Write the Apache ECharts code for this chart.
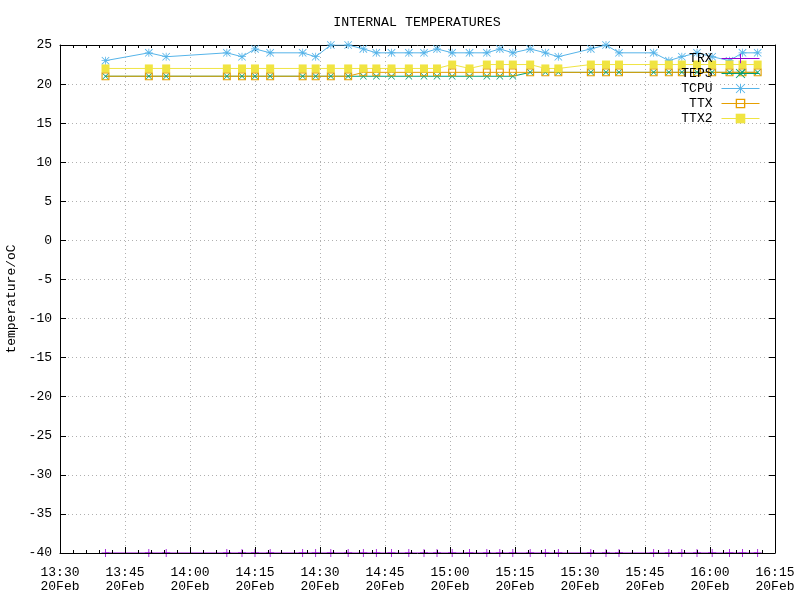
<!DOCTYPE html>
<html><head><meta charset="utf-8">
<script src="https://cdn.jsdelivr.net/npm/echarts@6/dist/echarts.min.js"></script>
<style>html,body{margin:0;padding:0;background:#fff}#c{width:800px;height:600px}</style>
</head><body><div id="c"></div>
<script>
const times = ['13:40:30','13:50:30','13:54:30','14:08:30','14:12:00','14:15:00','14:18:30','14:26:00','14:29:00','14:32:30','14:36:30','14:40:00','14:43:00','14:46:30','14:50:30','14:54:00','14:57:00','15:00:30','15:04:30','15:08:30','15:11:30','15:14:30','15:18:30','15:22:00','15:25:00','15:32:30','15:36:00','15:39:00','15:47:00','15:50:30','15:53:30','15:57:00','16:00:30','16:04:30','16:07:30','16:11:00'];
const TRX  = [-40,-40,-40,-40,-40,-40,-40,-40,-40,-40,-40,-40,-40,-40,-40,-40,-40,-40,-40,-40,-40,-40,-40,-40,-40,-40,-40,-40,-40,-40,-40,-40,-40,-40,-40,-40];
const TEPS = [21,21,21,21,21,21,21,21,21,21,21,21,21,21,21,21,21,21,21,21,21,21,21.5,21.5,21.5,21.5,21.5,21.5,21.5,21.5,21.5,21.5,21.5,21.5,21.5,21.5];
const TCPU = [23,24,23.5,24,23.5,24.5,24,24,23.5,25,25,24.5,24,24,24,24,24.5,24,24,24,24.5,24,24.5,24,23.5,24.5,25,24,24,23,23.5,24,23.5,23,24,24];
const TTX  = [21,21,21,21,21,21,21,21,21,21,21,21.5,21.5,21.5,21.5,21.5,21.5,21.5,21.5,21.5,21.5,21.5,21.5,21.5,21.5,21.5,21.5,21.5,21.5,21.5,21.5,21.5,21.5,21.5,21.5,21.5];
const TTX2 = [22,22,22,22,22,22,22,22,22,22,22,22,22,22,22,22,22,22.5,22,22.5,22.5,22.5,22.5,22,22,22.5,22.5,22.5,22.5,22.5,22.5,22.5,22.5,22.5,22.5,22.5];
const xTickStart = '13:30', xTickEnd = '16:15', xTickStepMin = 15, dateLabel = '20Feb';
const yMin = -40, yMax = 25, yStep = 5;

function toMin(s){const p=s.split(':').map(Number);return p[0]*60+p[1]+(p[2]||0)/60;}
const xs = times.map(toMin);
const pair = arr => arr.map((v,i)=>[xs[i],v]);
function fmt(v){const h=Math.floor(v/60),m=Math.round(v%60);return String(h).padStart(2,'0')+':'+String(m).padStart(2,'0')+'\n'+dateLabel;}

const FONT = 'Liberation Mono';
const sym = {
  plus: 'path://M4.5 0H5.5V10H4.5Z M0 4.5H10V5.5H0Z',
  cross: 'path://M0 0.7L0.7 0L10 9.3L9.3 10Z M9.3 0L10 0.7L0.7 10L0 9.3Z',
  star: 'path://M4.5 0H5.5V10H4.5Z M0 4.5H10V5.5H0Z M0 0.7L0.7 0L10 9.3L9.3 10Z M9.3 0L10 0.7L0.7 10L0 9.3Z',
  box: 'path://M0 0H10V10H0Z M1.4 1.4V8.6H8.6V1.4Z',
  fbox: 'path://M0 0H10V10H0Z'
};
function ser(name, data, color, symbol, size){
  return {name, type:'line', data:pair(data), symbol, symbolSize:size, showAllSymbol:true,
    color, lineStyle:{color, width:1}, itemStyle:{color}, emphasis:{disabled:true}, animation:false};
}
const xmin = toMin(xTickStart), xmax = toMin(xTickEnd);
const chart = echarts.init(document.getElementById('c'), null, {renderer:'canvas'});
chart.setOption({
  animation:false,
  backgroundColor:'#fff',
  textStyle:{fontFamily:FONT},
  title:{text:'INTERNAL TEMPERATURES', left:417, textAlign:'center', top:16, padding:0,
    textStyle:{fontFamily:FONT, fontSize:13.3, fontWeight:'normal', color:'#000'}},
  legend:{orient:'vertical', right:40, top:52, align:'right', itemWidth:38, itemHeight:12, itemGap:2, padding:0,
    selectedMode:false, lineStyle:{width:1}, textStyle:{fontFamily:FONT, fontSize:13, color:'#000', padding:[0,4,0,0]},
    data:['TRX','TEPS','TCPU','TTX','TTX2']},
  grid:{left:60, right:25, top:45, bottom:47, containLabel:false, outerBoundsMode:'none'},
  xAxis:[
    {type:'value', min:xmin, max:xmax, interval:xTickStepMin, position:'bottom', z:5,
     axisLine:{show:true, onZero:false, lineStyle:{color:'#000', width:1}},
     axisTick:{show:true, inside:true, length:6, lineStyle:{color:'#000'}},
     minorTick:{show:true, splitNumber:5, length:3, lineStyle:{color:'#000'}},
     splitLine:{show:false},
     axisLabel:{formatter:fmt, color:'#000', fontFamily:FONT, fontSize:13, margin:13, lineHeight:14, showMaxLabel:true, showMinLabel:true}},
    {type:'value', min:xmin, max:xmax, interval:xTickStepMin, position:'top',
     axisLine:{show:true, onZero:false, lineStyle:{color:'#000', width:1}},
     axisTick:{show:true, inside:true, length:6, lineStyle:{color:'#000'}},
     minorTick:{show:true, splitNumber:5, length:3, lineStyle:{color:'#000'}},
     splitLine:{show:true, lineStyle:{color:'#b0b0b0', type:[1,3], width:1}},
     axisLabel:{show:false}}
  ],
  yAxis:[
    {type:'value', min:yMin, max:yMax, interval:yStep, position:'left',
     name:'temperature/oC', nameLocation:'middle', nameGap:37, nameRotate:90,
     nameTextStyle:{fontFamily:FONT, fontSize:13, color:'#000'},
     axisLine:{show:true, onZero:false, lineStyle:{color:'#000', width:1}},
     axisTick:{show:true, inside:true, length:6, lineStyle:{color:'#000'}},
     splitLine:{show:true, lineStyle:{color:'#b0b0b0', type:[1,3], width:1}},
     axisLabel:{color:'#000', fontFamily:FONT, fontSize:13, margin:8}},
    {type:'value', min:yMin, max:yMax, interval:yStep, position:'right',
     axisLine:{show:true, onZero:false, lineStyle:{color:'#000', width:1}},
     axisTick:{show:true, inside:true, length:6, lineStyle:{color:'#000'}},
     splitLine:{show:false}, axisLabel:{show:false}}
  ],
  series:[
    ser('TRX', TRX, '#9400d3', sym.plus, 8),
    ser('TEPS', TEPS, '#009e73', sym.cross, 7),
    ser('TCPU', TCPU, '#56b4e9', sym.star, 8),
    ser('TTX', TTX, '#e69f00', sym.box, 8),
    ser('TTX2', TTX2, '#f0e442', sym.fbox, 8)
  ]
});
</script></body></html>
